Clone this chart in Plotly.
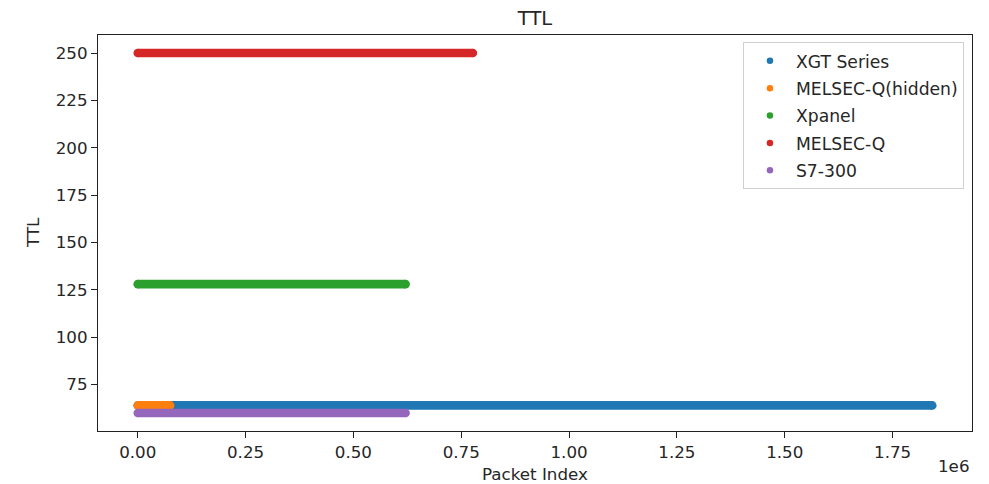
import plotly.graph_objects as go

# Series: name, colour, TTL value, first and last packet index
series_names = ["XGT Series", "MELSEC-Q(hidden)", "Xpanel", "MELSEC-Q", "S7-300"]
series_colors = ["#1f77b4", "#ff7f0e", "#2ca02c", "#d62728", "#9467bd"]
series_ttl = [64, 64, 128, 250, 60]
series_start = [0, 0, 0, 0, 0]
series_end = [1842000, 75000, 621000, 777000, 621000]

x_tick_vals = [0, 250000, 500000, 750000, 1000000, 1250000, 1500000, 1750000]
x_tick_text = ["0.00", "0.25", "0.50", "0.75", "1.00", "1.25", "1.50", "1.75"]
y_tick_vals = [75, 100, 125, 150, 175, 200, 225, 250]

FONT = "DejaVu Sans"
TXT = "#262626"
FS = 16.7

W, H = 981, 476  # page body has an 8px margin

fig = go.Figure()

for name, col, ttl, s, e in zip(series_names, series_colors, series_ttl, series_start, series_end):
    fig.add_trace(go.Scatter(
        x=[s, e], y=[ttl, ttl], mode="lines+markers",
        line=dict(color=col, width=8.6),
        marker=dict(color=col, size=8.6),
        legendgroup=name, showlegend=False, hoverinfo="skip",
    ))

for name, col in zip(series_names, series_colors):
    fig.add_trace(go.Scatter(
        x=[None], y=[None], mode="markers", name=name,
        marker=dict(color=col, size=6.5),
        legendgroup=name, showlegend=True,
    ))

xmax = max(series_end)
xpad = 0.05 * xmax
ymin, ymax = min(series_ttl), max(series_ttl)
ypad = 0.05 * (ymax - ymin)

axis_common = dict(
    showline=True, linecolor="#222222", linewidth=1.2, mirror=True,
    ticks="outside", ticklen=6, tickwidth=1.2, tickcolor="#222222",
    showgrid=False, zeroline=False,
    tickfont=dict(family=FONT, size=FS, color=TXT),
)

fig.update_layout(
    width=W, height=H,
    margin=dict(l=90, r=17, t=27, b=53),
    paper_bgcolor="white", plot_bgcolor="white",
    font=dict(family=FONT, size=FS, color=TXT),
    title=dict(text="TTL", x=0.5, xref="paper", xanchor="center",
               y=1 - 3 / H, yref="container", yanchor="top", pad=dict(t=0, b=0),
               font=dict(family=FONT, size=19.5, color=TXT)),
    xaxis=dict(range=[series_start[0] - xpad, xmax + xpad],
               tickvals=x_tick_vals, ticktext=x_tick_text, **axis_common),
    yaxis=dict(range=[ymin - ypad, ymax + ypad], tickvals=y_tick_vals, **axis_common),
    legend=dict(x=0.9908, xanchor="right", y=0.982, yanchor="top",
                bgcolor="rgba(255,255,255,0.8)", bordercolor="#d0d0d0", borderwidth=1,
                traceorder="grouped", tracegroupgap=2, itemwidth=42,
                font=dict(family=FONT, size=17.2, color=TXT)),
    annotations=[
        dict(text="Packet Index", xref="paper", yref="paper", x=0.5, y=0,
             xanchor="center", yanchor="middle", yshift=-43, showarrow=False,
             font=dict(family=FONT, size=FS, color=TXT)),
        dict(text="TTL", xref="paper", yref="paper", x=0, y=0.5, textangle=-90,
             xanchor="center", yanchor="middle", xshift=-65, showarrow=False,
             font=dict(family=FONT, size=FS, color=TXT)),
        dict(text="1e6", xref="paper", yref="paper", x=1, y=0,
             xanchor="right", yanchor="middle", yshift=-35, showarrow=False,
             font=dict(family=FONT, size=FS, color=TXT)),
    ],
)

fig.write_html("out.html")
